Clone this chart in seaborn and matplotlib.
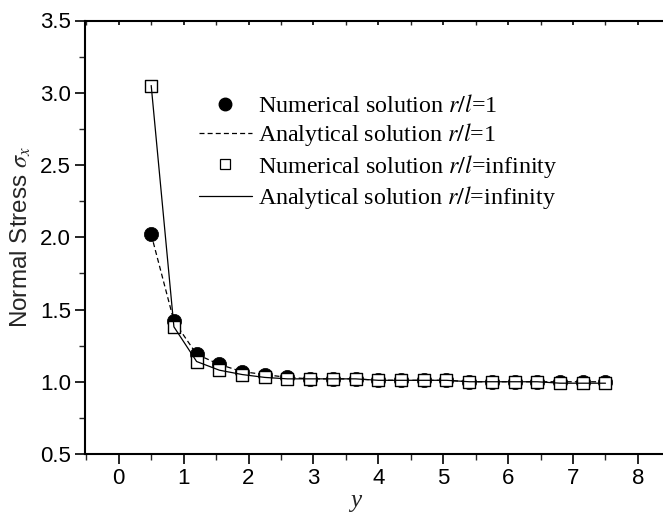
import matplotlib
matplotlib.use("Agg")
import matplotlib.pyplot as plt
from matplotlib.ticker import MultipleLocator, FormatStrFormatter
from matplotlib.lines import Line2D
import seaborn as sns
import pandas as pd

y_pos = [0.5, 0.85, 1.2, 1.55, 1.9, 2.25, 2.6, 2.95, 3.3, 3.65, 4.0,
         4.35, 4.7, 5.05, 5.4, 5.75, 6.1, 6.45, 6.8, 7.15, 7.5]
num_r1 = [2.02, 1.42, 1.19, 1.12, 1.07, 1.05, 1.03, 1.02, 1.02, 1.02, 1.01,
          1.01, 1.01, 1.01, 1.00, 1.00, 1.00, 1.00, 1.00, 1.00, 1.00]
ana_r1 = [2.02, 1.42, 1.19, 1.12, 1.07, 1.05, 1.03, 1.02, 1.02, 1.02, 1.01,
          1.01, 1.01, 1.01, 1.00, 1.00, 1.00, 1.00, 1.00, 1.00, 1.00]
num_inf = [3.05, 1.38, 1.14, 1.08, 1.05, 1.03, 1.02, 1.02, 1.02, 1.02, 1.01,
           1.01, 1.01, 1.01, 1.00, 1.00, 1.00, 1.00, 0.99, 0.99, 0.99]
ana_inf = [3.05, 1.38, 1.14, 1.08, 1.05, 1.03, 1.02, 1.02, 1.02, 1.02, 1.01,
           1.01, 1.01, 1.01, 1.00, 1.00, 1.00, 1.00, 0.99, 0.99, 0.99]
labels = ["Numerical solution $r/l$=1", "Analytical solution $r/l$=1",
          "Numerical solution $r/l$=infinity", "Analytical solution $r/l$=infinity"]

sns.set_style("ticks")
plt.rcParams["font.family"] = ["Liberation Sans", "DejaVu Sans"]
plt.rcParams["mathtext.fontset"] = "stix"

df = pd.DataFrame({"y": y_pos, "n1": num_r1, "a1": ana_r1, "ni": num_inf, "ai": ana_inf})

fig = plt.figure(figsize=(6.63, 5.16), dpi=100)
ax = fig.add_axes([85 / 663, 1 - 454 / 516, (64.9 * 9.3) / 663, (454 - 20.5) / 516])

sns.scatterplot(data=df, x="y", y="n1", ax=ax, marker="o", s=105, color="black",
                edgecolor="black", linewidth=0.5, zorder=3)
sns.lineplot(data=df, x="y", y="a1", ax=ax, color="black", linewidth=0.9,
             linestyle=(0, (4, 2.5)), zorder=4)
sns.scatterplot(data=df, x="y", y="ni", ax=ax, marker="s", s=80, facecolor="white",
                edgecolor="black", linewidth=1.0, zorder=5)
sns.lineplot(data=df, x="y", y="ai", ax=ax, color="black", linewidth=0.9, zorder=6)

ax.set_xlim(-0.52, 8.78)
ax.set_ylim(0.5, 3.5)
ax.xaxis.set_major_locator(MultipleLocator(1))
ax.xaxis.set_minor_locator(MultipleLocator(0.5))
ax.yaxis.set_major_locator(MultipleLocator(0.5))
ax.yaxis.set_minor_locator(MultipleLocator(0.25))
ax.yaxis.set_major_formatter(FormatStrFormatter("%.1f"))

for s in ["left", "bottom", "top"]:
    ax.spines[s].set_linewidth(1.5)
    ax.spines[s].set_color("black")
ax.spines["right"].set_visible(False)

ax.tick_params(axis="both", which="major", direction="out", length=7, width=1.2,
               labelsize=16, colors="black", pad=3)
ax.tick_params(axis="both", which="minor", direction="out", length=4, width=1.0)
ax.tick_params(axis="x", which="both", top=True)
for t in ax.xaxis.get_major_ticks() + ax.xaxis.get_minor_ticks():
    t.tick2line.set_marker(3)
    t.tick2line.set_markersize(3)

ax.set_xlabel("y", fontsize=18, family="Liberation Serif", style="italic")
ax.xaxis.set_label_coords((356 - 85) / (64.9 * 9.3), -0.082)
ax.set_ylabel(r"Normal Stress $\sigma_x$", fontsize=17.5, labelpad=5)

handles = [
    Line2D([], [], marker="o", color="black", linestyle="none", markersize=9),
    Line2D([], [], color="black", linewidth=0.9, linestyle=(0, (4, 2.5))),
    Line2D([], [], marker="s", markerfacecolor="white", markeredgecolor="black",
           linestyle="none", markersize=7, markeredgewidth=0.9),
    Line2D([], [], color="black", linewidth=0.9),
]
leg = ax.legend(handles, labels, loc="upper left", bbox_to_anchor=(199 / 663, 1 - 95 / 516),
                bbox_transform=fig.transFigure, frameon=False,
                prop={"family": "Liberation Serif", "size": 17.3},
                handlelength=2.2, handletextpad=0.25, labelspacing=0.18, borderpad=0,
                borderaxespad=0)
for t in leg.get_texts():
    t.set_color("black")

fig.savefig("out.png", dpi=100)
